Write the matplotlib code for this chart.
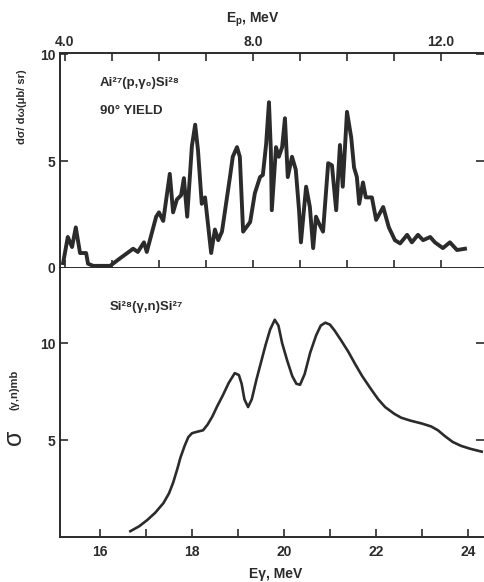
import matplotlib
matplotlib.use("Agg")
import matplotlib.pyplot as plt

plt.rcParams['font.family'] = ['Liberation Sans', 'DejaVu Sans']

# upper panel: Al27(p,gamma0)Si28 90 deg yield vs proton energy
ep = [3.96, 4.06, 4.15, 4.23, 4.32, 4.45, 4.49, 4.60, 4.96, 5.17, 5.45, 5.55,
      5.68, 5.74, 5.94, 6.00, 6.09, 6.23, 6.30, 6.38, 6.47, 6.53, 6.60, 6.70,
      6.77, 6.83, 6.91, 6.98, 7.04, 7.11, 7.19, 7.26, 7.34, 7.51, 7.57, 7.66,
      7.72, 7.79, 7.94, 8.04, 8.15, 8.21, 8.28, 8.34, 8.38, 8.40, 8.49, 8.55,
      8.62, 8.68, 8.74, 8.83, 8.91, 8.98, 9.02, 9.13, 9.21, 9.28, 9.34, 9.40,
      9.49, 9.60, 9.68, 9.77, 9.85, 9.91, 10.00, 10.09, 10.15, 10.21, 10.26,
      10.34, 10.40, 10.53, 10.62, 10.77, 10.89, 11.02, 11.13, 11.28, 11.38,
      11.51, 11.62, 11.77, 11.87, 12.04, 12.19, 12.34, 12.51]
yield90 = [0.23, 1.45, 0.98, 1.9, 0.7, 0.7, 0.2, 0.1, 0.1, 0.45, 0.9, 0.75,
           1.2, 0.75, 2.4, 2.6, 2.2, 4.4, 2.6, 3.2, 3.4, 4.2, 2.4, 5.7,
           6.7, 5.5, 3.0, 3.3, 2.1, 0.7, 1.8, 1.3, 1.7, 4.25, 5.2, 5.65,
           5.2, 1.7, 2.15, 3.5, 4.25, 4.35, 5.8, 7.75, 5.5, 2.7, 5.65, 5.2,
           5.65, 7.0, 4.25, 5.2, 4.6, 2.7, 1.2, 3.8, 2.85, 0.93, 2.4, 2.1,
           1.7, 4.9, 4.8, 2.7, 5.75, 3.8, 7.3, 6.1, 4.7, 4.25, 3.0,
           4.0, 3.3, 3.3, 2.25, 2.85, 1.9, 1.3, 1.15, 1.55, 1.2,
           1.55, 1.3, 1.45, 1.2, 0.93, 1.2, 0.84, 0.9]

# lower panel: Si28(gamma,n)Si27 cross section vs photon energy
eg = [16.66, 16.85, 17.03, 17.20, 17.38, 17.50, 17.59, 17.68, 17.75, 17.84,
      17.92, 18.00, 18.07, 18.15, 18.24, 18.34, 18.44, 18.55, 18.67, 18.80,
      18.93, 19.02, 19.08, 19.14, 19.22, 19.30, 19.40, 19.50, 19.60, 19.70,
      19.80, 19.88, 19.96, 20.07, 20.18, 20.27, 20.35, 20.45, 20.57, 20.70,
      20.80, 20.90, 21.00, 21.10, 21.24, 21.40, 21.54, 21.70, 21.90, 22.05,
      22.20, 22.40, 22.55, 22.75, 23.00, 23.20, 23.35, 23.50, 23.67, 23.85,
      24.05, 24.30]
sigma = [0.3, 0.55, 0.88, 1.25, 1.75, 2.25, 2.8, 3.5, 4.1, 4.7,
         5.15, 5.35, 5.4, 5.45, 5.5, 5.8, 6.2, 6.75, 7.3, 7.95,
         8.45, 8.35, 7.9, 7.1, 6.7, 7.1, 8.1, 9.0, 9.9, 10.7,
         11.2, 10.9, 10.0, 9.1, 8.3, 7.9, 7.85, 8.4, 9.5, 10.4,
         10.9, 11.05, 10.95, 10.65, 10.15, 9.55, 8.95, 8.3, 7.6, 7.1,
         6.7, 6.35, 6.15, 6.0, 5.85, 5.7, 5.5, 5.2, 4.9, 4.7,
         4.55, 4.4]

top_ticks = [4, 5, 6, 7, 8, 9, 10, 11, 12]
top_labels = ['4.0', '', '', '', '8.0', '', '', '', '12.0']
bot_ticks = [16, 17, 18, 19, 20, 21, 22, 23, 24]
bot_labels = ['16', '', '18', '', '20', '', '22', '', '24']

W, H = 484, 582
fig = plt.figure(figsize=(W / 100, H / 100), dpi=100)

def box(l, t, r, b):
    return [l / W, 1 - b / H, (r - l) / W, (b - t) / H]

ink = '#2b2b2b'
tick_kw = dict(direction='in', length=6, width=1.2, colors=ink, labelsize=10)

# upper axes
ax1 = fig.add_axes(box(60, 53, 484, 268))
ax1.plot(ep, yield90, color=ink, lw=2.8, solid_joinstyle='round')
ax1.set_xlim(3.894, 12.915)
ax1.set_ylim(0, 10.05)
ax1.set_xticks(top_ticks)
ax1.set_xticklabels(top_labels, fontweight='bold')
ax1.set_yticks([0, 5, 10])
ax1.set_yticklabels(['0', '5', '10'], fontweight='bold')
ax1.tick_params(axis='both', top=True, bottom=True, labeltop=True,
                labelbottom=False, right=True, **tick_kw)
ax1.tick_params(axis='x', pad=3)
ax1.spines['right'].set_visible(False)
for s in ['left', 'top', 'bottom']:
    ax1.spines[s].set_linewidth(1.4)
    ax1.spines[s].set_color(ink)

# lower axes
ax2 = fig.add_axes(box(60, 268, 484, 537))
ax2.plot(eg, sigma, color=ink, lw=1.9, solid_joinstyle='round')
ax2.set_xlim(15.13, 24.35)
ax2.set_ylim(0, 13.87)
ax2.set_xticks(bot_ticks)
ax2.set_xticklabels(bot_labels, fontweight='bold')
ax2.set_yticks([5, 10])
ax2.set_yticklabels(['5', '10'], fontweight='bold')
ax2.tick_params(axis='both', right=True, **tick_kw)
ax2.tick_params(axis='x', pad=6)
ax2.spines['right'].set_visible(False)
ax2.spines['top'].set_visible(False)
for s in ['left', 'bottom']:
    ax2.spines[s].set_linewidth(1.4)
    ax2.spines[s].set_color(ink)

# axis titles and labels
fig.text(253 / W, 1 - 20 / H, 'E$_\\mathregular{p}$, MeV', ha='center', va='center',
         fontsize=10, fontweight='bold', color=ink)
fig.text(276 / W, 1 - 574 / H, 'Eγ, MeV', ha='center', va='center',
         fontsize=10, fontweight='bold', color=ink)
fig.text(22 / W, 1 - 107 / H, 'dσ/ dω(μb/ sr)', ha='center', va='center',
         rotation=90, fontsize=8, fontweight='bold', color=ink)
fig.text(15 / W, 1 - 390 / H, '(γ,n)mb', ha='center', va='center',
         rotation=90, fontsize=8, fontweight='bold', color=ink)
fig.text(14 / W, 1 - 437 / H, 'σ', ha='center', va='center',
         rotation=90, fontsize=18, color=ink)

# reaction annotations
fig.text(100 / W, 1 - 83 / H, 'Ai²⁷(p,γ₀)Si²⁸', ha='left', va='center',
         fontsize=9.5, fontweight='bold', color=ink)
fig.text(100 / W, 1 - 111 / H, '90° YIELD', ha='left', va='center',
         fontsize=9.5, fontweight='bold', color=ink)
fig.text(110 / W, 1 - 307 / H, 'Si²⁸(γ,n)Si²⁷', ha='left', va='center',
         fontsize=9.5, fontweight='bold', color=ink)

fig.savefig('out.png', dpi=100)
